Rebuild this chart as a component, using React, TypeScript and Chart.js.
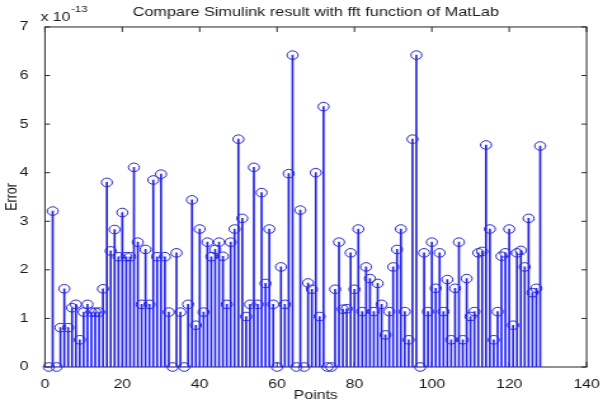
import React, { useEffect, useRef } from "react";
import { Chart, registerables } from "chart.js";

Chart.register(...registerables);

const TITLE = "Compare Simulink result with fft function of MatLab";
const X_LABEL = "Points";
const Y_LABEL = "Error";
const EXPONENT_BASE = "x 10";
const EXPONENT_POWER = "-13";

const xTicks = [0, 20, 40, 60, 80, 100, 120, 140];
const yTicks = [0, 1, 2, 3, 4, 5, 6, 7];

// Error values in units of 1e-13, points 1..128
const errorValues = [
  0, 3.21, 0, 0.81, 1.61, 0.81, 1.22, 1.29, 0.56, 1.13,
  1.29, 1.13, 1.13, 1.13, 1.61, 3.8, 2.39, 2.83, 2.27, 3.18,
  2.27, 2.27, 4.11, 2.57, 1.29, 2.42, 1.29, 3.85, 2.27, 3.97,
  2.27, 1.13, 0, 2.35, 1.13, 0, 1.29, 3.44, 0.86, 2.84,
  1.13, 2.57, 2.27, 2.42, 2.57, 2.28, 1.29, 2.57, 2.84, 4.69,
  3.06, 1.04, 1.29, 4.11, 1.29, 3.59, 1.72, 2.84, 1.29, 0,
  2.06, 1.29, 3.98, 6.42, 0, 3.23, 0, 1.73, 1.6, 4.0,
  1.04, 5.36, 0, 0, 1.6, 2.57, 1.19, 1.2, 2.35, 1.6,
  2.84, 1.14, 2.06, 1.82, 1.14, 1.72, 1.29, 0.66, 1.14, 2.06,
  2.42, 2.84, 1.14, 0.56, 4.69, 6.42, 0, 2.35, 1.14, 2.57,
  1.62, 2.35, 1.14, 1.8, 0.56, 1.62, 2.57, 0.56, 1.82, 1.04,
  1.14, 2.35, 2.38, 4.57, 2.84, 0.56, 1.14, 2.28, 2.35, 2.84,
  0.86, 2.35, 2.4, 2.06, 3.06, 1.53, 1.62, 4.55,
];

const pointNumbers = errorValues.map((_, i) => i + 1);

const WIN_W = 603;
const WIN_H = 403;
const LOGICAL_W = 475; // canvas drawn narrower, stretched horizontally like the reference
const SX = WIN_W / LOGICAL_W;

const BLUE = "#2020ff";
const AXIS = "#262626";
const TEXT = "#1a1a1a";
const FAMILY = '"Liberation Sans", Arial, Helvetica, sans-serif';
const FONT_SIZE = 12.5;

const framePlugin = {
  id: "matlabFrame",
  beforeDatasetsDraw(chart: any) {
    const { ctx, chartArea, scales } = chart;
    const { left, right, top, bottom } = chartArea;
    ctx.save();
    ctx.strokeStyle = AXIS;
    ctx.lineWidth = 1;
    ctx.strokeRect(left, top, right - left, bottom - top);
    ctx.beginPath();
    for (const v of xTicks) {
      const px = scales.x.getPixelForValue(v);
      ctx.moveTo(px, bottom);
      ctx.lineTo(px, bottom - 5);
      ctx.moveTo(px, top);
      ctx.lineTo(px, top + 5);
    }
    for (const v of yTicks) {
      const py = scales.y.getPixelForValue(v);
      ctx.moveTo(left, py);
      ctx.lineTo(left + 4, py);
      ctx.moveTo(right, py);
      ctx.lineTo(right - 4, py);
    }
    ctx.stroke();
    ctx.restore();
  },
  afterDraw(chart: any) {
    const { ctx, chartArea } = chart;
    ctx.save();
    ctx.fillStyle = TEXT;
    ctx.textBaseline = "alphabetic";
    ctx.textAlign = "left";
    ctx.font = `${FONT_SIZE}px ${FAMILY}`;
    const bx = chartArea.left - 3.5;
    ctx.fillText(EXPONENT_BASE, bx, 21);
    const w = ctx.measureText(EXPONENT_BASE).width;
    ctx.font = `9px ${FAMILY}`;
    ctx.fillText(EXPONENT_POWER, bx + w + 0.5, 12);
    ctx.restore();
  },
};

export default function App() {
  const canvasRef = useRef<HTMLCanvasElement | null>(null);

  useEffect(() => {
    const canvas = canvasRef.current;
    if (!canvas) return;
    const pts = pointNumbers.map((x, i) => ({ x, y: errorValues[i] }));
    const font = { size: FONT_SIZE, family: FAMILY, weight: "normal" as const };
    const chart = new Chart(canvas, {
      type: "bar",
      data: {
        datasets: [
          {
            type: "scatter",
            data: pts,
            showLine: false,
            pointStyle: "circle",
            pointRadius: 4.3,
            pointBorderWidth: 1,
            pointBorderColor: BLUE,
            pointBackgroundColor: "rgba(0,0,0,0)",
            clip: false,
            order: 0,
          } as any,
          {
            type: "bar",
            data: pts,
            backgroundColor: BLUE,
            barThickness: 1,
            borderWidth: 0,
            order: 1,
          } as any,
        ],
      },
      options: {
        responsive: false,
        animation: false,
        devicePixelRatio: 1,
        layout: { padding: { left: 0, right: 10.2, top: 0, bottom: 0 } },
        plugins: {
          legend: { display: false },
          tooltip: { enabled: false },
          title: {
            display: true,
            text: TITLE,
            fullSize: false,
            color: TEXT,
            font: { size: 12.8, family: FAMILY, weight: "normal" },
            padding: { top: 5, bottom: 6.6 },
          },
        },
        scales: {
          x: {
            type: "linear",
            min: 0,
            max: 140,
            offset: false,
            grid: { display: false },
            border: { display: false },
            afterBuildTicks: (s: any) => {
              s.ticks = xTicks.map((v) => ({ value: v }));
            },
            ticks: { color: TEXT, font, padding: 2.5, maxRotation: 0, autoSkip: false },
            title: { display: true, text: X_LABEL, color: TEXT, font, padding: { top: 0, bottom: 0 } },
            afterFit: (s: any) => {
              s.height = 36;
            },
          },
          y: {
            type: "linear",
            min: 0,
            max: 7,
            grid: { display: false },
            border: { display: false },
            afterBuildTicks: (s: any) => {
              s.ticks = yTicks.map((v) => ({ value: v }));
            },
            ticks: { color: TEXT, font, padding: 5 },
            title: { display: true, text: Y_LABEL, color: TEXT, font, padding: { top: 2.5, bottom: 0 } },
            afterFit: (s: any) => {
              s.width = 35.4;
            },
          },
        },
      } as any,
      plugins: [framePlugin],
    });
    return () => chart.destroy();
  }, []);

  return (
    <div style={{ position: "fixed", left: 0, top: 0, width: WIN_W, height: WIN_H, background: "#fff" }}>
      <canvas
        ref={canvasRef}
        width={LOGICAL_W}
        height={WIN_H}
        style={{ display: "block", width: `${WIN_W}px`, height: `${WIN_H}px` }}
      />
    </div>
  );
}
